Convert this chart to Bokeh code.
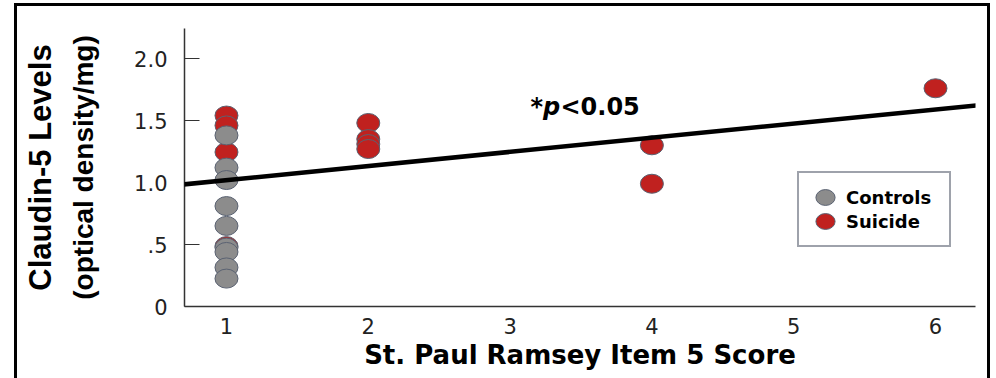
from bokeh.plotting import figure
from bokeh.models import (Range1d, FixedTicker, Slope, Legend, LegendItem, Label,
                          LinearAxis)
from bokeh.embed import file_html
from bokeh.resources import INLINE

# ---------------- data ----------------
x_ticks = [1, 2, 3, 4, 5, 6]
x_tick_labels = ["1", "2", "3", "4", "5", "6"]
y_ticks = [0, 0.5, 1.0, 1.5, 2.0]
y_tick_labels = ["0", ".5", "1.0", "1.5", "2.0"]

control_score = [1, 1, 1, 1, 1, 1, 1, 1, 1]
control_level = [1.38, 1.12, 1.02, 0.81, 0.65, 0.475, 0.44, 0.315, 0.225]

suicide_score = [1, 1, 1, 1, 2, 2, 2, 2, 4, 4, 6]
suicide_level = [1.54, 1.46, 1.245, 0.487, 1.48, 1.35, 1.31, 1.27, 1.30, 0.99, 1.76]

fit_slope = 0.114
fit_intercept = 0.905

series_names = ["Controls", "Suicide"]
x_title = "St. Paul Ramsey Item 5 Score"
y_title_lines = ["Claudin-5 Levels", "(optical density/mg)"]

# ---------------- styles ----------------
RED = "#C0211F"
GRAY = "#8C8C8C"
EDGE = "#5A6272"
HFONT = "DejaVu Sans"

panel_border = ("linear-gradient(#000,#000) 14px 3px / 3px 400px no-repeat, "
                "linear-gradient(#000,#000) 14px 3px / 976px 3px no-repeat, "
                "linear-gradient(#000,#000) 987px 3px / 3px 400px no-repeat, "
                "#ffffff")

p = figure(width=996, height=378, output_backend="svg", toolbar_location=None,
           x_range=Range1d(0.704, 6.282), y_range=Range1d(0, 2.242),
           min_border_left=184, min_border_right=21, min_border_top=28,
           min_border_bottom=72)
p.background_fill_color = None
p.border_fill_color = None
p.outline_line_color = None
p.styles = {"background": panel_border}
p.xgrid.visible = False
p.ygrid.visible = False

rs = p.ellipse(suicide_score, suicide_level, width=23, height=19,
               width_units="screen", height_units="screen",
               fill_color=RED, line_color=EDGE, line_width=1)
rc = p.ellipse(control_score, control_level, width=23, height=19,
               width_units="screen", height_units="screen",
               fill_color=GRAY, line_color=EDGE, line_width=1)

p.add_layout(Slope(gradient=fit_slope, y_intercept=fit_intercept,
                   line_color="black", line_width=4.5))

# axes
xa = p.xaxis[0]
xa.ticker = FixedTicker(ticks=x_ticks)
xa.major_label_overrides = {t: l for t, l in zip(x_ticks, x_tick_labels)}
xa.major_tick_in = 0
xa.major_tick_out = 0
xa.minor_tick_in = 0
xa.minor_tick_out = 0
xa.axis_line_color = "#333333"
xa.axis_line_width = 1.5
xa.major_label_text_font = HFONT
xa.major_label_text_font_size = "21px"
xa.major_label_text_color = "#222222"
xa.major_label_standoff = 11
xa.axis_label = x_title
xa.axis_label_text_font = HFONT
xa.axis_label_text_font_size = "26px"
xa.axis_label_text_font_style = "bold"
xa.axis_label_text_color = "black"
xa.axis_label_standoff = 3

ya = p.yaxis[0]
ya.ticker = FixedTicker(ticks=y_ticks)
ya.major_label_overrides = {t: l for t, l in zip(y_ticks, y_tick_labels)}
ya.major_tick_in = 15
ya.major_tick_out = 0
ya.minor_tick_in = 0
ya.minor_tick_out = 0
ya.axis_line_color = "#333333"
ya.axis_line_width = 1.5
ya.major_tick_line_color = "#333333"
ya.major_tick_line_width = 1.2
ya.major_label_text_font = HFONT
ya.major_label_text_font_size = "21px"
ya.major_label_text_color = "#222222"
ya.major_label_standoff = 17
ya.axis_label = y_title_lines[1]
ya.axis_label_text_font = "Liberation Sans"
ya.axis_label_text_font_size = "28px"
ya.axis_label_text_font_style = "bold"
ya.axis_label_text_color = "black"
ya.axis_label_standoff = 32

# outer title line: a bare extra axis carrying only its label
ya2 = LinearAxis(ticker=FixedTicker(ticks=[]), axis_line_color=None,
                 major_tick_line_color=None, minor_tick_line_color=None,
                 major_tick_in=0, major_tick_out=0, minor_tick_in=0,
                 minor_tick_out=0, major_label_standoff=0,
                 axis_label=y_title_lines[0], axis_label_standoff=8,
                 axis_label_text_font="Liberation Sans",
                 axis_label_text_font_size="31px",
                 axis_label_text_font_style="bold",
                 axis_label_text_color="black")
p.add_layout(ya2, "left")

# legend
legend = Legend(items=[LegendItem(label=series_names[0], renderers=[rc]),
                       LegendItem(label=series_names[1], renderers=[rs])],
                location=(613, 59), orientation="vertical")
legend.border_line_color = "#3E4658"
legend.border_line_width = 2
legend.background_fill_color = "white"
legend.label_text_font = HFONT
legend.label_text_font_size = "18px"
legend.label_text_font_style = "bold"
legend.label_text_color = "black"
legend.glyph_width = 28
legend.glyph_height = 24
legend.label_standoff = 7
legend.label_width = 91
legend.padding = 12
legend.spacing = 0
legend.margin = 0
p.add_layout(legend)


# p-value annotation
def dx(px):
    return 1 + (px - 226) / 141.8


base_y = 1.605
p.add_layout(Label(x=dx(530), y=base_y, text="*", text_font=HFONT,
                   text_font_size="24px", text_font_style="bold",
                   text_color="black", text_baseline="alphabetic"))
p.add_layout(Label(x=dx(542.6), y=base_y, text="p", text_font=HFONT,
                   text_font_size="24px", text_font_style="bold italic",
                   text_color="black", text_baseline="alphabetic"))
p.add_layout(Label(x=dx(560), y=base_y, text="<0.05", text_font=HFONT,
                   text_font_size="24px", text_font_style="bold",
                   text_color="black", text_baseline="alphabetic"))

open("out.html", "w").write(file_html(p, INLINE))
